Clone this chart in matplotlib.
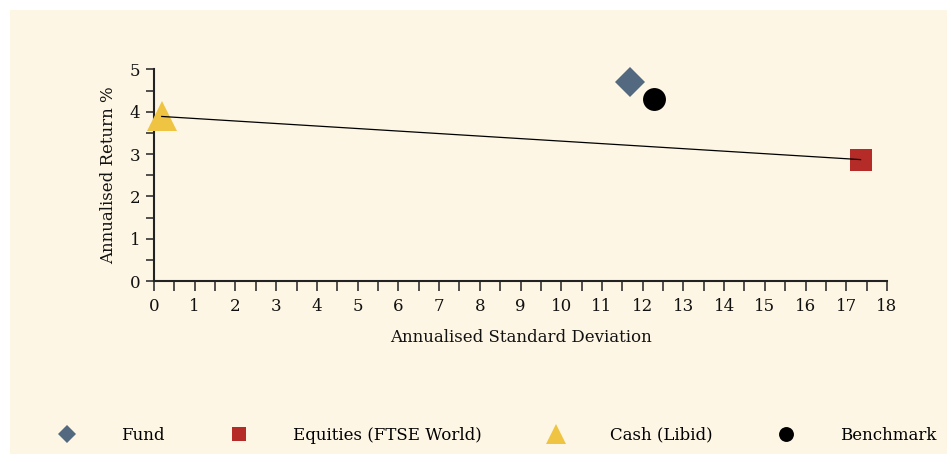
import matplotlib
matplotlib.use("Agg")
import matplotlib.pyplot as plt
from matplotlib.patches import Rectangle
from matplotlib.ticker import MultipleLocator

# risk / return points
names = ["Fund", "Equities (FTSE World)", "Cash (Libid)", "Benchmark"]
std_dev = [11.69, 17.35, 0.19, 12.28]
ret = [4.71, 2.87, 3.89, 4.30]
markers = ["D", "s", "^", "o"]
sizes = [14.8, 15.8, 21.6, 16.5]
colors = ["#52697f", "#b52b27", "#efc443", "#000000"]

# efficient line between cash and equities
line_x = [std_dev[2], std_dev[1]]
line_y = [ret[2], ret[1]]

bg = "#fdf6e4"
plt.rcParams['font.family'] = ['DejaVu Serif']
plt.rcParams['font.size'] = 12

fig = plt.figure(figsize=(9.47, 4.54), dpi=100)
fig.patch.set_facecolor("white")
fig.patches.append(Rectangle((10 / 947, 0), 1, 1 - 10 / 454, transform=fig.transFigure,
                             facecolor=bg, edgecolor="none", zorder=-10))

ax = fig.add_axes([154 / 947, 173 / 454, 733 / 947, 211.5 / 454])
ax.set_facecolor(bg)
ax.patch.set_alpha(0)

handles = []
for n, x, y, m, s, c in zip(names, std_dev, ret, markers, sizes, colors):
    h, = ax.plot([x], [y], linestyle="none", marker=m, markersize=s, color=c,
                 markeredgewidth=0, label=n, zorder=3, clip_on=False)
    handles.append(h)
ax.plot(line_x, line_y, color="black", lw=0.9, zorder=4)

ax.set_xlim(0, 18)
ax.set_ylim(0, 5)
ax.xaxis.set_major_locator(MultipleLocator(1))
ax.xaxis.set_minor_locator(MultipleLocator(0.5))
ax.yaxis.set_major_locator(MultipleLocator(1))
ax.yaxis.set_minor_locator(MultipleLocator(0.5))
for sp in ["top", "right"]:
    ax.spines[sp].set_visible(False)
for sp in ["left", "bottom"]:
    ax.spines[sp].set_linewidth(1.5)
    ax.spines[sp].set_color("#222222")
ax.tick_params(which="both", axis="x", length=7, width=1.1, color="#222222", pad=5)
ax.tick_params(which="both", axis="y", length=6, width=1.1, color="#222222", pad=4)
ax.tick_params(labelsize=12, labelcolor="#111111")

ax.set_xlabel("Annualised Standard Deviation", color="#111111")
ax.set_ylabel("Annualised Return %", color="#111111")
ax.yaxis.set_label_coords(-0.0505, 0.5)
ax.xaxis.set_label_coords(0.5, -0.227)

fig.legend(handles=handles, loc="center left", bbox_to_anchor=(50.3 / 947, 19 / 454),
           ncol=4, frameon=False, markerscale=0.65, numpoints=1, fontsize=12,
           handlelength=2, handletextpad=2.24, columnspacing=3.45,
           borderpad=0, borderaxespad=0)

fig.savefig("out.png", dpi=100, facecolor=fig.get_facecolor())
